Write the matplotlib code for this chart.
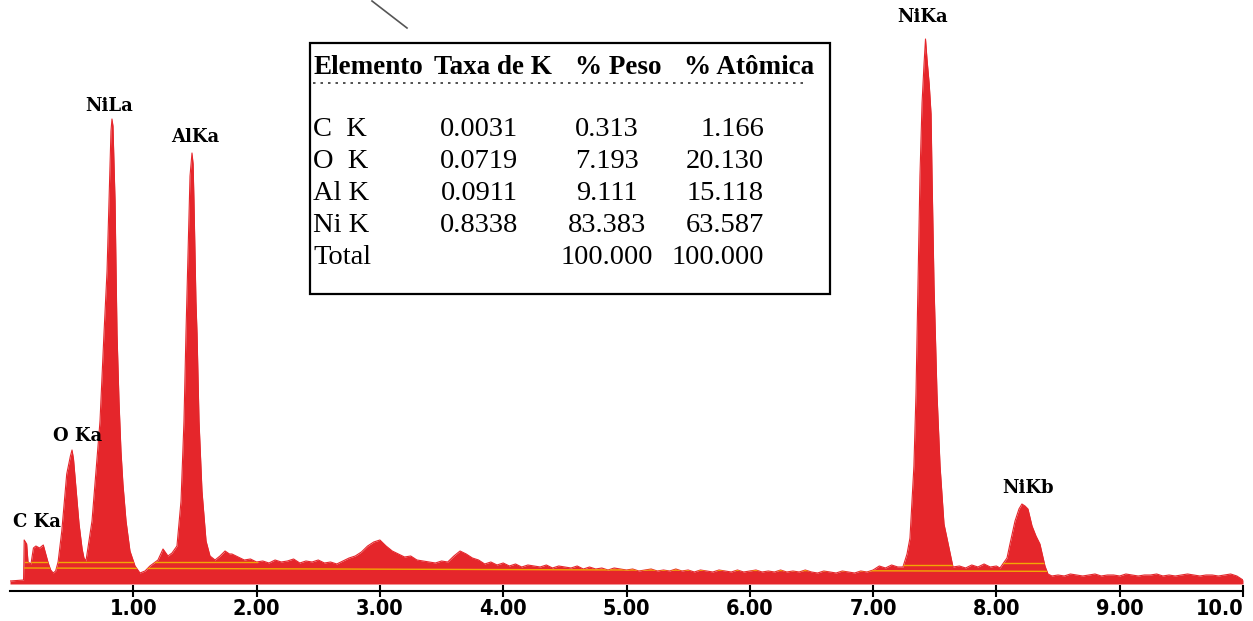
import numpy as np
import matplotlib
matplotlib.use("Agg")
import matplotlib.pyplot as plt

# EDS spectrum (energy in keV, counts in arbitrary units)
low_kev = [0.00, 0.10, 0.11, 0.115, 0.135, 0.146, 0.17, 0.19, 0.21, 0.24, 0.27, 0.29,
           0.31, 0.33, 0.35, 0.37, 0.39, 0.42, 0.46, 0.49, 0.503, 0.515, 0.535, 0.56,
           0.585, 0.60, 0.616, 0.633, 0.665, 0.689, 0.73, 0.762, 0.787, 0.803, 0.819,
           0.827, 0.835, 0.852, 0.860, 0.868, 0.884, 0.900, 0.916, 0.941, 0.973, 1.014,
           1.054, 1.095, 1.135, 1.20, 1.241, 1.281, 1.314, 1.354, 1.387, 1.411, 1.427,
           1.444, 1.460, 1.476, 1.485, 1.492, 1.508, 1.517, 1.533, 1.557, 1.590, 1.622,
           1.663, 1.703, 1.744, 1.78]
low_counts = [3, 4, 4, 44, 40, 22, 20, 36, 38, 36, 39, 30,
              21, 14, 11, 13, 22, 53, 110, 128, 134, 125, 96, 60,
              35, 26, 23, 37, 63, 100, 163, 250, 313, 383, 453,
              465, 458, 383, 313, 250, 183, 133, 100, 63, 33, 18,
              11, 13, 18, 24, 35, 28, 31, 38, 83, 163, 250,
              333, 408, 431, 420, 383, 283, 250, 163, 93, 43, 28,
              24, 28, 33, 30]

# background 1.80 - 7.20 keV, every 0.05 keV
bg_start = 1.80
bg_counts = [30, 27, 24, 25, 22,
             23, 21, 24, 22, 23, 25, 21, 23, 22, 24,
             21, 22, 20, 23, 26, 28, 32, 38, 42, 44,
             38, 33, 30, 27, 28, 24, 23, 22, 21, 23,
             22, 28, 33, 30, 26, 24, 20, 22, 19, 21,
             18, 20, 17, 19, 18, 17, 19, 16, 18, 17,
             16, 18, 15, 17, 15, 16, 14, 16, 15, 14,
             15, 13, 14, 15, 13, 14, 13, 15, 13, 14,
             12, 14, 13, 12, 14, 13, 12, 14, 12, 13,
             14, 12, 13, 12, 14, 12, 13, 12, 14, 12,
             11, 13, 12, 11, 13, 12, 11, 13, 12, 14,
             18, 16, 19, 17]

high_kev = [7.242, 7.275, 7.299, 7.331, 7.348, 7.364, 7.380, 7.397, 7.413, 7.425, 7.437,
            7.455, 7.470, 7.478, 7.494, 7.518, 7.543, 7.575, 7.599, 7.648,
            7.70, 7.75, 7.80, 7.85, 7.90, 7.95, 8.00,
            8.029, 8.086, 8.110, 8.151, 8.183, 8.207, 8.232, 8.256, 8.289, 8.321,
            8.353, 8.394, 8.418, 8.45]
high_counts = [17, 30, 46, 118, 191, 299, 408, 481, 520, 545, 525,
               500, 470, 408, 299, 191, 118, 60, 46, 17,
               18, 16, 19, 17, 20, 17, 18,
               16, 26, 40, 63, 75, 80, 78, 75, 58, 48,
               40, 18, 10, 8]

# tail 8.50 - 9.95 keV, every 0.05 keV
tail_start = 8.50
tail_counts = [9, 8, 10, 9, 8, 9, 10, 8, 9, 9, 8, 10, 9, 8, 9,
               9, 10, 8, 9, 8, 9, 10, 9, 8, 9, 9, 8, 9, 10, 8]
end_kev = [10.0]
end_counts = [4]

peak_names = ["C Ka", "O Ka", "NiLa", "AlKa", "NiKa", "NiKb"]
peak_label_kev = [0.22, 0.545, 0.80, 1.50, 7.40, 8.26]
peak_label_counts = [62, 148, 478, 447, 567, 96]

tick_values = [1, 2, 3, 4, 5, 6, 7, 8, 9, 10]
tick_labels = ["1.00", "2.00", "3.00", "4.00", "5.00", "6.00", "7.00", "8.00", "9.00", "10.0"]

table_header = ["Elemento", "Taxa de K", "% Peso", "% Atômica"]
table_elements = ["C  K", "O  K", "Al K", "Ni K", "Total"]
table_k_ratio = ["0.0031", "0.0719", "0.0911", "0.8338", ""]
table_weight = ["0.313", "7.193", "9.111", "83.383", "100.000"]
table_atomic = ["1.166", "20.130", "15.118", "63.587", "100.000"]

bg_kev = [round(bg_start + 0.05 * i, 2) for i in range(len(bg_counts))]
tail_kev = [round(tail_start + 0.05 * i, 2) for i in range(len(tail_counts))]
kev = np.array(low_kev + bg_kev + high_kev + tail_kev + end_kev)
counts = np.array(low_counts + bg_counts + high_counts + tail_counts + end_counts)

W, H = 1253, 621
fig = plt.figure(figsize=(W / 100, H / 100), dpi=100)
fig.patch.set_facecolor("white")

axis_y = 591
ax = fig.add_axes([10 / W, (H - axis_y) / H, (1243 - 10) / W, axis_y / H])
ax.set_xlim(0, 10)
ax.set_ylim(-7, 584)

red = "#e5262b"
poly = ax.fill_between(kev, 0, counts, color=red, linewidth=0)
ax.plot(kev, counts, color=red, lw=0.8)

# yellow background marker lines, only shown inside the filled area
clip = poly.get_paths()[0]
for xs, ys in [([0.12, 10.0], [16, 12]), ([0.12, 2.0], [22, 22]),
               ([7.24, 7.65], [19, 19]), ([8.05, 8.42], [21, 21])]:
    ln, = ax.plot(xs, ys, color="#f2a705", lw=1.0)
    ln.set_clip_path(clip, transform=ax.transData)

for name, x, y in zip(peak_names, peak_label_kev, peak_label_counts):
    ax.text(x, y, name, ha="center", va="center", fontsize=13,
            fontweight="heavy", family=["DejaVu Serif"], color="black")

for s in ["top", "right", "left"]:
    ax.spines[s].set_visible(False)
ax.spines["bottom"].set_position(("data", -7))
ax.spines["bottom"].set_linewidth(1.5)
ax.set_yticks([])
ax.set_xticks(tick_values)
ax.set_xticklabels(tick_labels)
ax.tick_params(axis="x", direction="inout", length=9, width=1.5, pad=1)
for lab in ax.get_xticklabels():
    lab.set_fontfamily(["DejaVu Sans Condensed", "DejaVu Sans"])
    lab.set_fontstretch("condensed")
    lab.set_fontweight("bold")
    lab.set_fontsize(15.5)
ax.get_xticklabels()[-1].set_horizontalalignment("right")

# overlay in pixel coordinates for the results table
ov = fig.add_axes([0, 0, 1, 1], facecolor="none")
ov.set_xlim(0, W)
ov.set_ylim(H, 0)
ov.axis("off")

ov.add_patch(plt.Rectangle((310, 43), 520, 251, fill=False, lw=1.6, ec="black"))
ov.plot([313, 808], [83, 83], color="#333333", lw=1.2, ls=(0, (1.5, 3)))
ov.plot([372, 407], [1, 28], color="#555555", lw=1.2)

serif = ["Liberation Serif", "DejaVu Serif"]
head_x = [313, 434, 575, 684]
for hx, txt in zip(head_x, table_header):
    ov.text(hx, 67, txt, ha="left", va="center", fontsize=19.5, fontweight="bold", family=serif)

row_y = [130, 162, 194, 226, 258]
for i, y in enumerate(row_y):
    ov.text(313, y, table_elements[i], ha="left", va="center", fontsize=20.5, family=serif)
    ov.text(479, y, table_k_ratio[i], ha="center", va="center", fontsize=20.5, family=serif)
    ov.text(607, y, table_weight[i], ha="center", va="center", fontsize=20.5, family=serif)
    ov.text(764, y, table_atomic[i], ha="right", va="center", fontsize=20.5, family=serif)

fig.savefig("out.png", dpi=100)
